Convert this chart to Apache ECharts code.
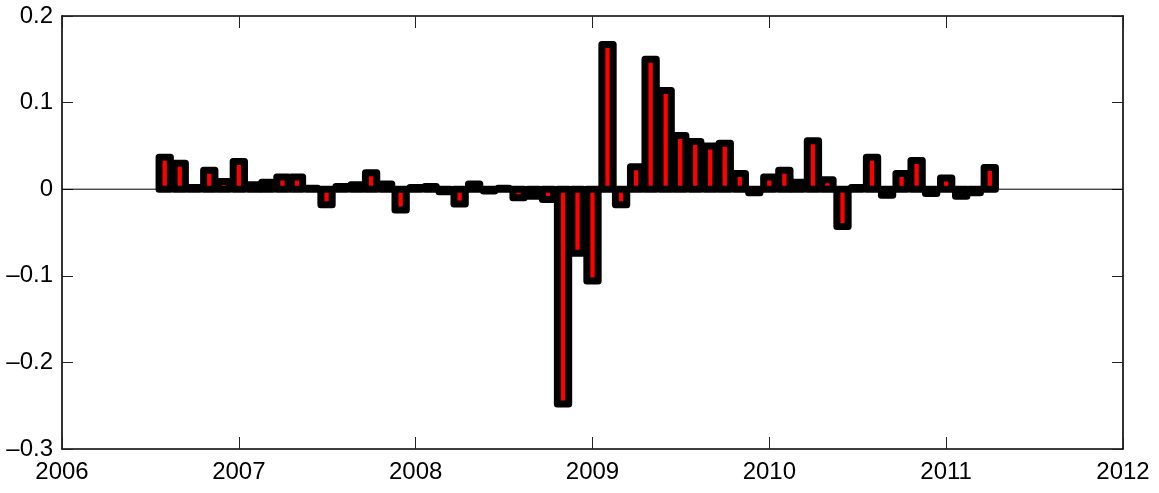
<!DOCTYPE html>
<html>
<head>
<meta charset="utf-8">
<script src="https://cdn.jsdelivr.net/npm/echarts@6/dist/echarts.min.js"></script>
<style>
html,body{margin:0;padding:0;background:#fff;}
#chart{width:1159px;height:493px;}
</style>
</head>
<body>
<div id="chart"></div>
<script>
// Monthly observations (month start dates)
var months = [
  '2006-08','2006-09','2006-10','2006-11','2006-12',
  '2007-01','2007-02','2007-03','2007-04','2007-05','2007-06','2007-07','2007-08','2007-09','2007-10','2007-11','2007-12',
  '2008-01','2008-02','2008-03','2008-04','2008-05','2008-06','2008-07','2008-08','2008-09','2008-10','2008-11','2008-12',
  '2009-01','2009-02','2009-03','2009-04','2009-05','2009-06','2009-07','2009-08','2009-09','2009-10','2009-11','2009-12',
  '2010-01','2010-02','2010-03','2010-04','2010-05','2010-06','2010-07','2010-08','2010-09','2010-10','2010-11','2010-12',
  '2011-01','2011-02','2011-03','2011-04'
];
var values = [
  0.037, 0.030, 0.002, 0.022, 0.009,
  0.032, 0.005, 0.008, 0.014, 0.014, 0.001, -0.018, 0.003, 0.005, 0.019, 0.006, -0.024,
  0.002, 0.003, -0.003, -0.017, 0.006, -0.002, 0.001, -0.010, -0.008, -0.012, -0.248, -0.074,
  -0.106, 0.167, -0.018, 0.026, 0.150, 0.114, 0.062, 0.055, 0.050, 0.053, 0.018, -0.004,
  0.014, 0.022, 0.008, 0.056, 0.011, -0.043, 0.002, 0.037, -0.007, 0.018, 0.033, -0.005,
  0.013, -0.008, -0.004, 0.025
];
var xTickLabels = [2006, 2007, 2008, 2009, 2010, 2011, 2012];
var yTickLabels = [-0.3, -0.2, -0.1, 0, 0.1, 0.2];

function decYear(s) {
  var p = s.split('-');
  var y = +p[0], m = +p[1];
  var start = Date.UTC(y, 0, 1), end = Date.UTC(y + 1, 0, 1);
  return y + (Date.UTC(y, m - 1, 1) - start) / (end - start);
}

var data = months.map(function (m, i) { return [decYear(m), values[i]]; });

var FONT = 'Liberation Sans, Arial, Helvetica, sans-serif';
var tickStyle = { color: '#222', width: 1 };
var lineStyle = { color: '#000', width: 1.6 };
var BAR_W_YEARS = 0.064;   // bar width in axis units (years)
var EDGE_W = 7;            // thick black bar edge

function yFmt(v) {
  var s = Math.abs(v) < 1e-9 ? '0' : (Math.round(v * 10) / 10).toFixed(1);
  return s.replace('-', '\u2013');
}

function renderBar(params, api) {
  var x = api.value(0), y = api.value(1);
  var p0 = api.coord([x, 0]);
  var p1 = api.coord([x, y]);
  var w = api.size([BAR_W_YEARS, 0])[0];
  return {
    type: 'rect',
    shape: { x: p0[0] - w / 2, y: Math.min(p0[1], p1[1]), width: w, height: Math.abs(p1[1] - p0[1]) },
    style: { fill: '#ff0000', stroke: '#000000', lineWidth: EDGE_W, lineJoin: 'round' }
  };
}

var chart = echarts.init(document.getElementById('chart'), null, { renderer: 'canvas' });
chart.setOption({
  animation: false,
  backgroundColor: '#fff',
  grid: { left: 62, right: 36, top: 16, bottom: 44, containLabel: false },
  xAxis: [
    {
      type: 'value', position: 'bottom',
      min: xTickLabels[0], max: xTickLabels[xTickLabels.length - 1], interval: 1,
      splitLine: { show: false },
      axisLine: { show: true, onZero: false, lineStyle: lineStyle },
      axisTick: { show: true, inside: true, length: 12, lineStyle: tickStyle },
      axisLabel: { show: true, margin: 11, color: '#000', fontSize: 24, fontFamily: FONT,
        formatter: function (v) { return String(Math.round(v)); } }
    },
    {
      type: 'value', position: 'top',
      min: xTickLabels[0], max: xTickLabels[xTickLabels.length - 1], interval: 1,
      splitLine: { show: false },
      axisLine: { show: true, onZero: false, lineStyle: lineStyle },
      axisTick: { show: true, inside: true, length: 12, lineStyle: tickStyle },
      axisLabel: { show: false }
    }
  ],
  yAxis: [
    {
      type: 'value', position: 'left',
      min: yTickLabels[0], max: yTickLabels[yTickLabels.length - 1], interval: 0.1,
      splitLine: { show: false },
      axisLine: { show: true, onZero: false, lineStyle: lineStyle },
      axisTick: { show: true, inside: true, length: 11, lineStyle: tickStyle },
      axisLabel: { show: true, margin: 9, color: '#000', fontSize: 24, fontFamily: FONT,
        padding: [6, 0, 0, 0], formatter: yFmt }
    },
    {
      type: 'value', position: 'right',
      min: yTickLabels[0], max: yTickLabels[yTickLabels.length - 1], interval: 0.1,
      splitLine: { show: false },
      axisLine: { show: true, onZero: false, lineStyle: lineStyle },
      axisTick: { show: true, inside: true, length: 11, lineStyle: tickStyle },
      axisLabel: { show: false }
    }
  ],
  series: [
    {
      type: 'line',
      xAxisIndex: 0, yAxisIndex: 0,
      data: [[xTickLabels[0], 0], [xTickLabels[xTickLabels.length - 1], 0]],
      symbol: 'none',
      silent: true,
      lineStyle: { color: '#000', width: 1 },
      z: 1
    },
    {
      type: 'custom',
      xAxisIndex: 0, yAxisIndex: 0,
      data: data,
      encode: { x: 0, y: 1 },
      renderItem: renderBar,
      silent: true,
      z: 2
    }
  ]
});
</script>
</body>
</html>
